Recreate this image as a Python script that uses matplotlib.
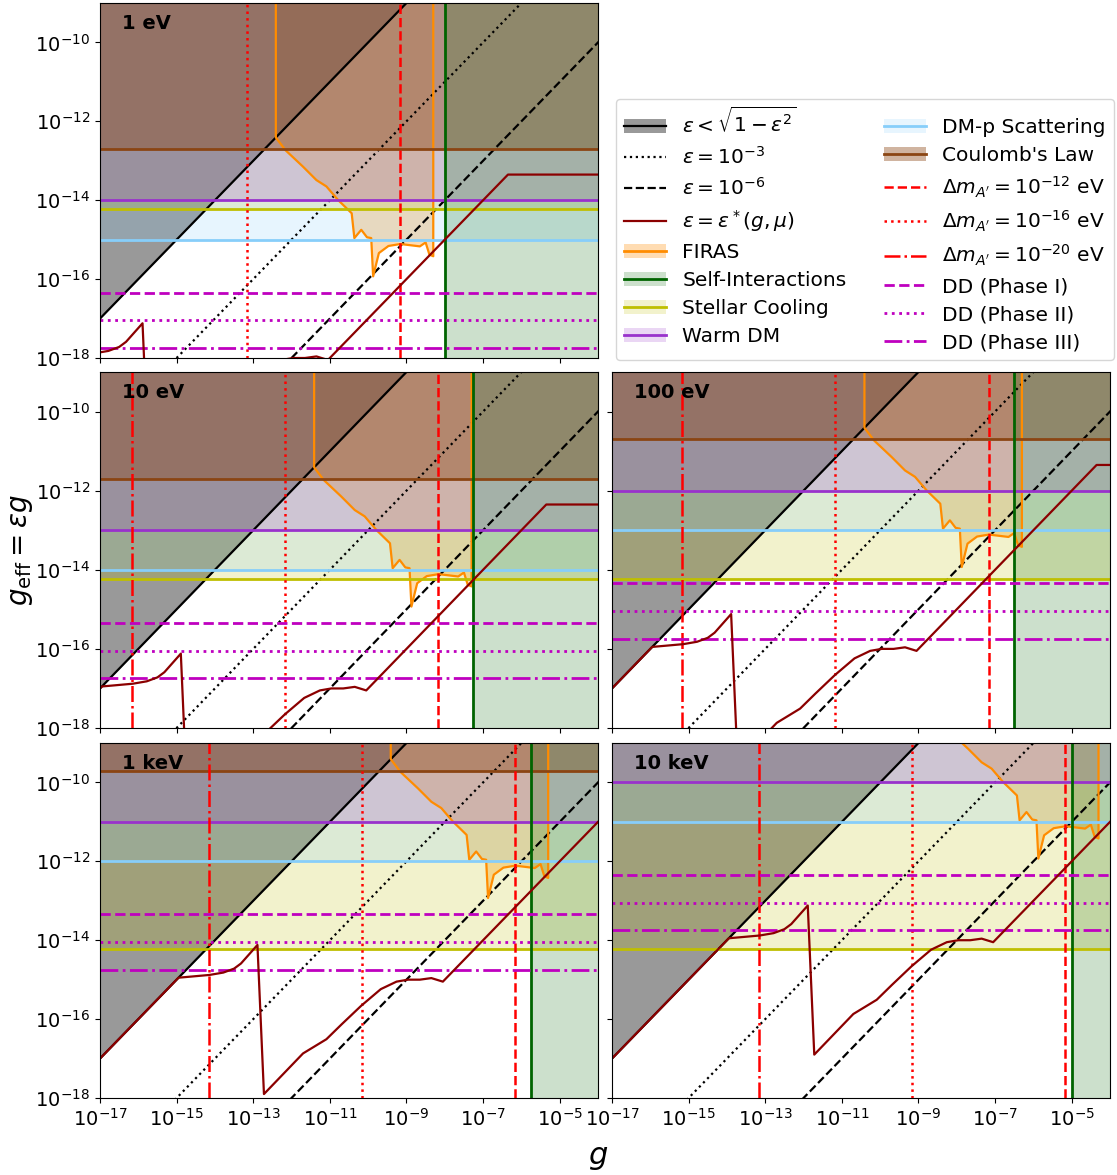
import numpy as np
import matplotlib.pyplot as plt
from matplotlib.patches import Patch
from matplotlib.lines import Line2D

# dark photon mass in each panel (eV)
masses = [1, 10, 100, 1000, 10000]
panel_labels = ['1 eV', '10 eV', '100 eV', '1 keV', '10 keV']

# horizontal bounds on g_eff (one value per panel)
coulomb = [2e-13, 2e-12, 2e-11, 2e-10, 2e-9]
warm_dm = [1e-14, 1e-13, 1e-12, 1e-11, 1e-10]
dm_p = [1e-15, 1e-14, 1e-13, 1e-12, 1e-11]
stellar = [6e-15, 6e-15, 6e-15, 6e-15, 6e-15]
dd_phase1 = [4.5e-17, 4.5e-16, 4.5e-15, 4.5e-14, 4.5e-13]
dd_phase2 = [9e-18, 9e-17, 9e-16, 9e-15, 9e-14]
dd_phase3 = [1.8e-18, 1.8e-17, 1.8e-16, 1.8e-15, 1.8e-14]

# vertical bounds on g (one value per panel)
self_int = [1e-8, 5.6e-8, 3.1e-7, 1.8e-6, 1e-5]
dm_12 = [6.8e-10, 6.8e-9, 6.8e-8, 6.8e-7, 6.8e-6]
dm_16 = [6.8e-14, 6.8e-13, 6.8e-12, 6.8e-11, 6.8e-10]
dm_20 = [6.8e-18, 6.8e-17, 6.8e-16, 6.8e-15, 6.8e-14]

# epsilon lines
eps_max = 1.0
eps_1 = 1e-3
eps_2 = 1e-6
g_ends = np.array([1e-18, 1e-3])

# eps*(g, mu) curve for 1 eV, log10 values (moves with the mass)
estar_logg = [-21.0, -17.95, -17.6, -17.14, -16.78, -16.5, -16.32, -15.89,
              -15.72, -14.70, -14.09, -13.69, -13.18, -12.67, -12.26, -11.96,
              -11.65, -11.35, -11.05, -6.35, 0.0]
estar_logeff = [-21.0, -17.95, -17.92, -17.88, -17.82, -17.72, -17.59, -17.12,
                -20.90, -19.87, -19.51, -19.13, -18.66, -18.24, -18.05, -18.0,
                -18.0, -17.96, -18.05, -13.35, -13.35]

# FIRAS bound for 1 eV, log10 values (moves with the mass)
firas_logg = [-12.41, -12.41, -12.16, -11.70, -11.35, -11.09, -10.79, -10.43,
              -10.36, -10.18, -10.03, -9.92, -9.87, -9.72, -9.47, -9.16,
              -8.65, -8.50, -8.40, -8.30, -8.30]
firas_logeff = [3.0, -12.41, -12.73, -13.15, -13.49, -13.65, -13.99, -14.33,
                -14.96, -14.75, -14.94, -14.96, -15.93, -15.34, -15.16, -15.11,
                -15.17, -15.07, -15.38, -15.42, 3.0]

W, H = 1117, 1175
fig = plt.figure(figsize=(W / 100, H / 100), dpi=100)


def box(x0, y0, x1, y1):
    return [x0 / W, 1 - y1 / H, (x1 - x0) / W, (y1 - y0) / H]


positions = [box(100, 3, 598, 358),
             box(100, 372, 598, 728), box(612, 372, 1110, 728),
             box(100, 743, 598, 1098), box(612, 743, 1110, 1098)]

c_grey = 'k'
c_firas = 'darkorange'
c_si = 'darkgreen'
c_st = 'y'
c_wdm = 'darkorchid'
c_dmp = 'lightskyblue'
c_coul = 'saddlebrown'
c_estar = 'darkred'
c_dm = 'red'
c_dd = 'm'

top = 1.0
for i, m in enumerate(masses):
    ax = fig.add_axes(positions[i])
    ax.set_xscale('log')
    ax.set_yscale('log')
    sh = np.log10(m)
    fg = 10 ** (np.array(firas_logg) + sh)
    fe = 10 ** (np.array(firas_logeff) + sh)

    # excluded regions (FIRAS first, the others are laid over it)
    ax.fill(fg, fe, color=c_firas, alpha=0.3, lw=0)
    ax.fill_between(g_ends, eps_max * g_ends, top, color=c_grey, alpha=0.4, lw=0)
    ax.axhspan(stellar[i], top, color=c_st, alpha=0.2, lw=0)
    ax.axhspan(dm_p[i], top, color=c_dmp, alpha=0.2, lw=0)
    ax.axhspan(warm_dm[i], top, color=c_wdm, alpha=0.2, lw=0)
    ax.axhspan(coulomb[i], top, color=c_coul, alpha=0.4, lw=0)
    ax.axvspan(self_int[i], top, color=c_si, alpha=0.2, lw=0)

    # boundary lines
    ax.plot(g_ends, eps_max * g_ends, color='k', lw=1.6)
    ax.plot(g_ends, eps_1 * g_ends, color='k', ls=':', lw=1.6)
    ax.plot(g_ends, eps_2 * g_ends, color='k', ls='--', lw=1.6)
    ax.plot(fg, fe, color=c_firas, lw=1.6)
    ax.axhline(stellar[i], color=c_st, lw=2)
    ax.axhline(dm_p[i], color=c_dmp, lw=2)
    ax.axhline(warm_dm[i], color=c_wdm, lw=2)
    ax.axhline(coulomb[i], color=c_coul, lw=2)
    ax.axvline(self_int[i], color=c_si, lw=2)
    ax.axvline(dm_12[i], color=c_dm, ls='--', lw=1.8)
    ax.axvline(dm_16[i], color=c_dm, ls=':', lw=1.8)
    ax.axvline(dm_20[i], color=c_dm, ls='-.', lw=1.8)
    ax.axhline(dd_phase1[i], color=c_dd, ls='--', lw=2)
    ax.axhline(dd_phase2[i], color=c_dd, ls=':', lw=2)
    ax.axhline(dd_phase3[i], color=c_dd, ls='-.', lw=2)
    ax.plot(10 ** (np.array(estar_logg) + sh), 10 ** (np.array(estar_logeff) + sh),
            color=c_estar, lw=1.6)

    ax.set_xlim(1e-17, 1e-4)
    ax.set_ylim(1e-18, 1e-9)
    ax.set_xticks([1e-17, 1e-15, 1e-13, 1e-11, 1e-9, 1e-7, 1e-5])
    ax.set_yticks([1e-18, 1e-16, 1e-14, 1e-12, 1e-10])
    ax.minorticks_off()
    ax.tick_params(labelsize=14)
    if i not in (3, 4):
        ax.set_xticklabels([])
    if i in (2, 4):
        ax.set_yticklabels([])
    ax.text(0.044, 0.942, panel_labels[i], transform=ax.transAxes, fontsize=14,
            fontweight='bold', va='center', ha='left')

fig.text(0.019, 1 - 550 / H, r'$g_{\rm eff} = \varepsilon g$', fontsize=20,
         rotation=90, ha='center', va='center')
fig.text(598 / W, 1 - 1158 / H, r'$g$', fontsize=22, ha='center', va='center')

handles = [
    (Patch(facecolor=c_grey, alpha=0.4), Line2D([], [], color='k', lw=1.6)),
    Line2D([], [], color='k', ls=':', lw=1.6),
    Line2D([], [], color='k', ls='--', lw=1.6),
    Line2D([], [], color=c_estar, lw=1.6),
    (Patch(facecolor=c_firas, alpha=0.3), Line2D([], [], color=c_firas, lw=2)),
    (Patch(facecolor=c_si, alpha=0.2), Line2D([], [], color=c_si, lw=2)),
    (Patch(facecolor=c_st, alpha=0.2), Line2D([], [], color=c_st, lw=2)),
    (Patch(facecolor=c_wdm, alpha=0.2), Line2D([], [], color=c_wdm, lw=2)),
    (Patch(facecolor=c_dmp, alpha=0.2), Line2D([], [], color=c_dmp, lw=2)),
    (Patch(facecolor=c_coul, alpha=0.4), Line2D([], [], color=c_coul, lw=2)),
    Line2D([], [], color=c_dm, ls='--', lw=1.8),
    Line2D([], [], color=c_dm, ls=':', lw=1.8),
    Line2D([], [], color=c_dm, ls='-.', lw=1.8),
    Line2D([], [], color=c_dd, ls='--', lw=2),
    Line2D([], [], color=c_dd, ls=':', lw=2),
    Line2D([], [], color=c_dd, ls='-.', lw=2),
]
labels = [
    r'$\varepsilon < \sqrt{1-\varepsilon^2}$',
    r'$\varepsilon = 10^{-3}$',
    r'$\varepsilon = 10^{-6}$',
    r'$\varepsilon = \varepsilon^*(g,\mu)$',
    'FIRAS', 'Self-Interactions', 'Stellar Cooling', 'Warm DM',
    'DM-p Scattering', "Coulomb's Law",
    r'$\Delta m_{A^\prime} = 10^{-12}$ eV',
    r'$\Delta m_{A^\prime} = 10^{-16}$ eV',
    r'$\Delta m_{A^\prime} = 10^{-20}$ eV',
    'DD (Phase I)', 'DD (Phase II)', 'DD (Phase III)',
]
fig.legend(handles, labels, ncol=2, fontsize=14.5, loc='upper left',
           bbox_to_anchor=(616 / W, 1 - 99 / H),
           handlelength=2.1, handletextpad=0.8, columnspacing=1.85,
           labelspacing=0.45, borderaxespad=0, borderpad=0.4)

fig.savefig('out.png', dpi=100)
